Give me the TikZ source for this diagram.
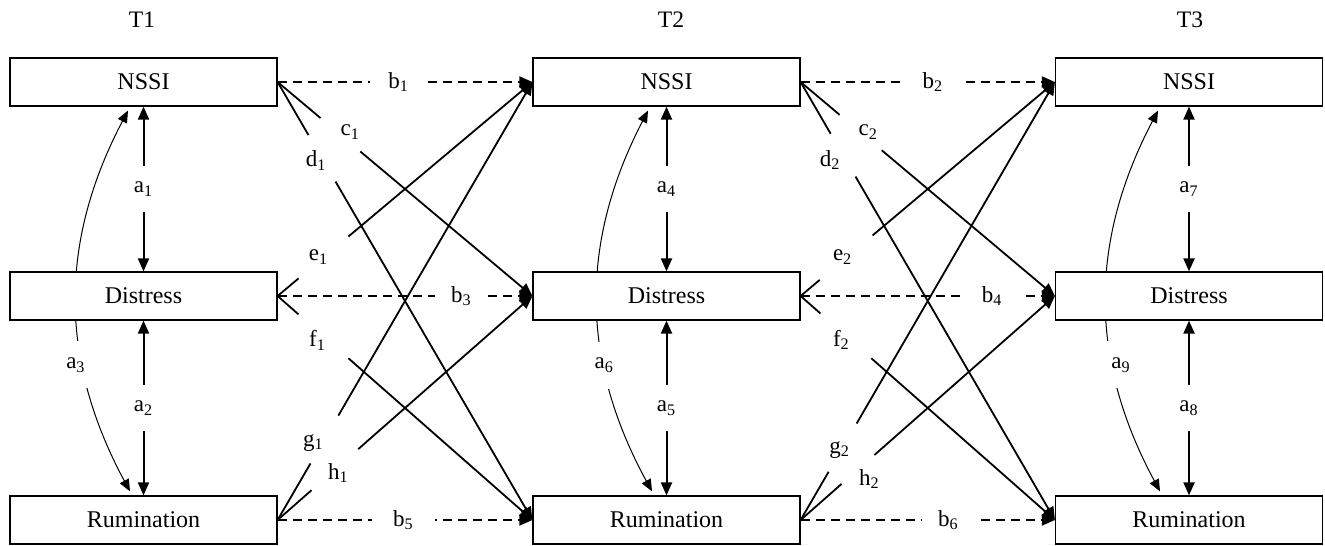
\documentclass[tikz,border=0pt]{standalone}
\usepackage{fontspec}
\setmainfont{Liberation Serif}
\usetikzlibrary{arrows.meta,calc}
\pgfdeclarelayer{background}
\pgfsetlayers{background,main}
\begin{document}
\begin{tikzpicture}[x=0.5pt,y=-0.5pt,
  >={Triangle[length=6.5pt,width=5.5pt]},
  box/.style={draw,line width=0.6pt,fill=white,minimum width=133.5pt,minimum height=24pt,inner sep=0pt,font=\fontsize{12}{14}\selectfont},
  tlab/.style={font=\fontsize{11.8}{14}\selectfont},
  lbl/.style={font=\fontsize{11.5}{13}\selectfont,inner sep=1pt},
  wlbl/.style={lbl,fill=white},
  vert/.style={<->,line width=1pt},
  curv/.style={{Triangle[length=6pt,width=5pt]}-{Triangle[length=6pt,width=5pt]},line width=0.5pt},
  dashline/.style={->,line width=0.9pt,dash pattern=on 4.5pt off 3pt},
  crossline/.style={->,line width=0.9pt}
]
\useasboundingbox (0,0) rectangle (1325,545);

% time labels
\node[tlab] (t1) at (142,20) {T1};
\node[tlab] (t2) at (671,20) {T2};
\node[tlab] (t3) at (1190,20) {T3};

% boxes
\node[box] (N1) at (143.5,82) {NSSI};
\node[box] (D1) at (143.5,296) {Distress};
\node[box] (R1) at (143.5,520) {Rumination};
\node[box] (N2) at (666.5,82) {NSSI};
\node[box] (D2) at (666.5,296) {Distress};
\node[box] (R2) at (666.5,520) {Rumination};
\node[box] (N3) at (1189,82) {NSSI};
\node[box] (D3) at (1189,296) {Distress};
\node[box] (R3) at (1189,520) {Rumination};

% curved correlations (behind the boxes)
\begin{pgfonlayer}{background}
\draw[curv] ([xshift=-6.75pt,yshift=2pt]R1.north) to[bend left=28]
  node[wlbl,pos=0.33,xshift=-3.5pt,minimum height=23.5pt,inner xsep=4pt] (la3) {a\textsubscript{3}}
  ([xshift=-7.75pt,yshift=-2pt]N1.south);
\draw[curv] ([xshift=-7.25pt,yshift=2pt]R2.north) to[bend left=28]
  node[wlbl,pos=0.33,minimum height=23.5pt,inner xsep=4pt] (la6) {a\textsubscript{6}}
  ([xshift=-9.25pt,yshift=-2pt]N2.south);
\draw[curv] ([xshift=-14.5pt,yshift=2pt]R3.north) to[bend left=28]
  node[wlbl,pos=0.33,xshift=4pt,minimum height=23.5pt,inner xsep=4pt] (la9) {a\textsubscript{9}}
  ([xshift=-15.5pt,yshift=-2pt]N3.south);
\end{pgfonlayer}

% vertical correlations
\draw[vert] (N1.south) -- node[wlbl,minimum height=23pt] (la1) {a\textsubscript{1}} (D1.north);
\draw[vert] (D1.south) -- node[wlbl,minimum height=23pt] (la2) {a\textsubscript{2}} (R1.north);
\draw[vert] (N2.south) -- node[wlbl,minimum height=23pt] (la4) {a\textsubscript{4}} (D2.north);
\draw[vert] (D2.south) -- node[wlbl,minimum height=23pt] (la5) {a\textsubscript{5}} (R2.north);
\draw[vert] (N3.south) -- node[wlbl,minimum height=23pt] (la7) {a\textsubscript{7}} (D3.north);
\draw[vert] (D3.south) -- node[wlbl,minimum height=23pt] (la8) {a\textsubscript{8}} (R3.north);

% autoregressive paths (dashed)
\draw[dashline] (N1.east) -- node[wlbl,pos=0.475,minimum width=28.5pt] (lb1) {b\textsubscript{1}} (N2.west);
\draw[dashline] (D1.east) -- node[wlbl,pos=0.721,minimum width=26.5pt] (lb3) {b\textsubscript{3}} (D2.west);
\draw[dashline] (R1.east) -- node[wlbl,pos=0.494,minimum width=31.5pt] (lb5) {b\textsubscript{5}} (R2.west);
\draw[dashline] (N2.east) -- node[wlbl,pos=0.52,minimum width=28pt] (lb2) {b\textsubscript{2}} (N3.west);
\draw[dashline] (D2.east) -- node[wlbl,pos=0.753,minimum width=27.5pt] (lb4) {b\textsubscript{4}} (D3.west);
\draw[dashline] (R2.east) -- node[wlbl,pos=0.581,minimum width=26.5pt] (lb6) {b\textsubscript{6}} (R3.west);

% cross-lagged paths T1 -> T2
\draw[crossline,dash pattern=on 28pt off 26pt on 400pt off 0pt] (N1.east) --
  node[lbl,pos=0.246,xshift=5pt,yshift=1.35pt] (lc1) {c\textsubscript{1}} (D2.west);
\draw[crossline,dash pattern=on 30.7pt off 26.9pt on 400pt off 0pt] (N1.east) --
  node[lbl,pos=0.174,xshift=-2.9pt,yshift=-1.1pt] (ld1) {d\textsubscript{1}} (R2.west);
\draw[crossline,dash pattern=on 13.7pt off 32.5pt on 400pt off 0pt] (D1.east) --
  node[lbl,pos=0.18,xshift=-2.5pt,yshift=0.25pt] (le1) {e\textsubscript{1}} (N2.west);
\draw[crossline,dash pattern=on 13.9pt off 33.2pt on 400pt off 0pt] (D1.east) --
  node[lbl,pos=0.18,xshift=-3pt,yshift=-2pt] (lf1) {f\textsubscript{1}} (R2.west);
\draw[crossline,dash pattern=on 32.7pt off 27.7pt on 400pt off 0pt] (R1.east) --
  node[lbl,pos=0.184,xshift=-5.5pt,yshift=-1.7pt] (lg1) {g\textsubscript{1}} (N2.west);
\draw[crossline,dash pattern=on 22.6pt off 31.1pt on 400pt off 0pt] (R1.east) --
  node[lbl,pos=0.225,xshift=1.75pt,yshift=-1.65pt] (lh1) {h\textsubscript{1}} (D2.west);

% cross-lagged paths T2 -> T3
\draw[crossline,dash pattern=on 25.5pt off 27.5pt on 400pt off 0pt] (N2.east) --
  node[lbl,pos=0.235,xshift=4pt] (lc2) {c\textsubscript{2}} (D3.west);
\draw[crossline,dash pattern=on 29.9pt off 24.8pt on 400pt off 0pt] (N2.east) --
  node[lbl,pos=0.167,xshift=-6.5pt,yshift=-2.5pt] (ld2) {d\textsubscript{2}} (R3.west);
\draw[crossline,dash pattern=on 12.5pt off 34.5pt on 400pt off 0pt] (D2.east) --
  node[lbl,pos=0.179,xshift=-1.75pt,yshift=0.4pt] (le2) {e\textsubscript{2}} (N3.west);
\draw[crossline,dash pattern=on 13.2pt off 33.9pt on 400pt off 0pt] (D2.east) --
  node[lbl,pos=0.178,xshift=-2.25pt,yshift=-2pt] (lf2) {f\textsubscript{2}} (R3.west);
\draw[crossline,dash pattern=on 27.9pt off 27.9pt on 400pt off 0pt] (R2.east) --
  node[lbl,pos=0.165,xshift=-1.5pt,yshift=-1pt] (lg2) {g\textsubscript{2}} (N3.west);
\draw[crossline,dash pattern=on 27.3pt off 21.9pt on 400pt off 0pt] (R2.east) --
  node[lbl,pos=0.225,xshift=5.75pt,yshift=-4.75pt] (lh2) {h\textsubscript{2}} (D3.west);
\end{tikzpicture}
\end{document}
